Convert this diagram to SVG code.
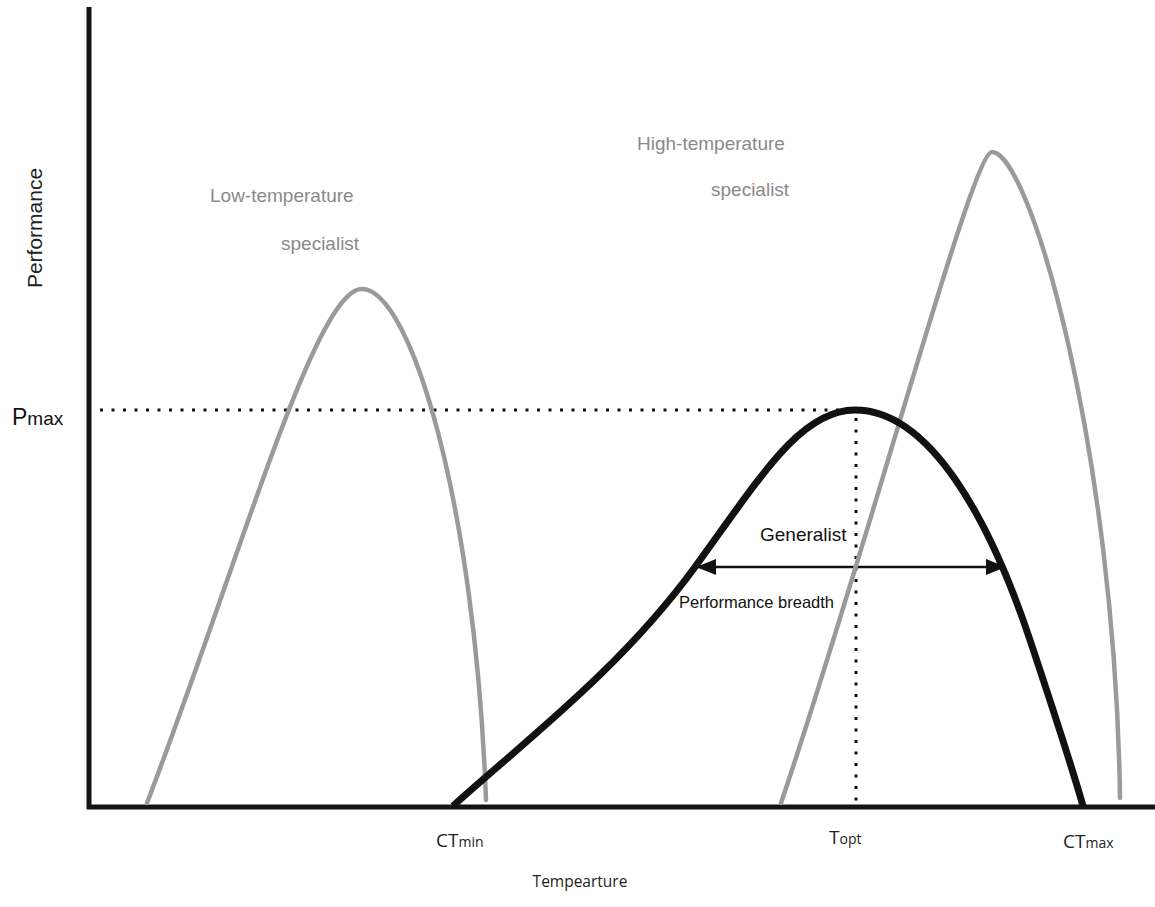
<svg xmlns="http://www.w3.org/2000/svg" width="1155" height="907" viewBox="0 0 1155 907">
<style>
.axis{stroke:#141414;stroke-width:5;fill:none}
.spec{stroke:#9a9a9a;stroke-width:4.5;fill:none;stroke-linecap:round}
.gen{stroke:#111;stroke-width:7;fill:none;stroke-linecap:butt}
.dot{stroke:#111;stroke-width:3;stroke-dasharray:3 8.5;fill:none}
.lbl{font-family:"Liberation Sans",Arial,sans-serif}
.glbl{font-family:"Liberation Sans",Arial,sans-serif;fill:#8a8a8a;font-size:19px}
.tick{font-family:"Open Sans","DejaVu Sans",sans-serif;fill:#222}
</style>
<defs>
<marker id="ah" markerWidth="20" markerHeight="16" refX="19" refY="8" orient="auto-start-reverse" markerUnits="userSpaceOnUse">
<path d="M0,0 L20,8 L0,16 Z" fill="#111"/>
</marker>
</defs>
<rect width="1155" height="907" fill="#fff"/>
<g id="axes">
<line class="axis" x1="89" y1="7" x2="89" y2="809"/>
<line class="axis" x1="87" y1="807" x2="1155" y2="807"/>
</g>
<g id="connectors">
<line class="dot" x1="100" y1="410" x2="855" y2="410"/>
<line class="dot" x1="856" y1="418" x2="856" y2="806"/>
<line x1="697" y1="567" x2="1005" y2="567" stroke="#111" stroke-width="2.5" marker-start="url(#ah)" marker-end="url(#ah)"/>
</g>
<g id="low-temp">
<path class="spec" d="M147,803 C240,560 315,289 362,289 C410,289 475,500 486,800"/>
</g>
<g id="high-temp">
<path class="spec" d="M781,803 C870,540 972,152 992,152 C1030,152 1115,450 1120,798"/>
</g>
<g id="generalist">
<path class="gen" d="M453,806 C520,745 620,670 695,567 C760,478 800,410 855,410 C930,410 990,520 1030,640 C1055,715 1070,760 1083,806"/>
</g>
<g id="labels">
<text class="lbl" x="0" y="0" font-size="21" fill="#222" text-anchor="middle" transform="translate(42,228) rotate(-90)">Performance</text>
<text class="lbl" x="12" y="425" font-size="23" fill="#111">P<tspan font-size="19">max</tspan></text>
<text class="glbl" x="210" y="202">Low-temperature</text>
<text class="glbl" x="281" y="250">specialist</text>
<text class="glbl" x="637" y="150">High-temperature</text>
<text class="glbl" x="711" y="196">specialist</text>
<text class="lbl" x="760" y="541" font-size="19" fill="#111">Generalist</text>
<text class="lbl" x="679" y="608" font-size="16.5" fill="#111">Performance breadth</text>
<text class="tick" x="436" y="847" font-size="19">CT<tspan font-size="14">min</tspan></text>
<text class="tick" x="829" y="844" font-size="19">T<tspan font-size="14">opt</tspan></text>
<text class="tick" x="1063" y="848" font-size="19">CT<tspan font-size="14">max</tspan></text>
<text class="tick" x="580" y="887" font-size="15.5" text-anchor="middle">Tempearture</text>
</g>
</svg>
